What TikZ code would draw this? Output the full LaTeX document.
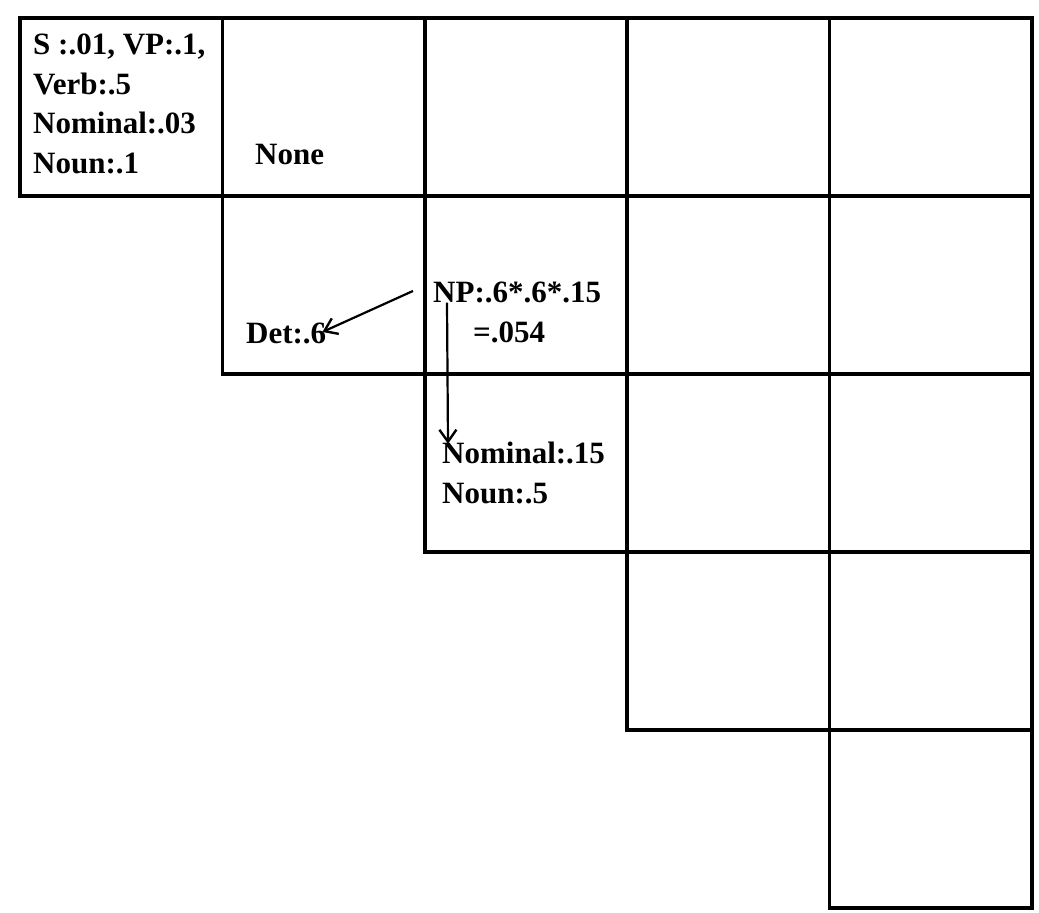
\documentclass[tikz,border=0pt]{standalone}
\usepackage{fontspec}
\setmainfont{Liberation Serif}
\usetikzlibrary{positioning,arrows.meta,calc}

\begin{document}
\begin{tikzpicture}[x=1pt,y=-1pt,>={Straight Barb[length=12pt,width=17pt,line width=2.4pt]},
  font=\fontsize{31}{39.5}\selectfont\bfseries,
  cellbox/.style={draw,line width=3.5pt,minimum width=202.4pt,minimum height=178pt,inner sep=0pt},
  entry/.style={anchor=base west,inner sep=0pt,align=left},
  backptr/.style={->,line width=2.2pt}]
\useasboundingbox (0,0) rectangle (1039,913);
% ---------------- chart cells (upper triangle) ----------------
\foreach \r in {0,...,4}
  \foreach \c in {\r,...,4}
    \node[cellbox] (cell\r\c) at ({20+202.4*(\c+0.5)},{18+178*(\r+0.5)}) {};
% ---------------- cell entries ----------------
\node[entry] (top) at (33,173) {S :.01, VP:.1,\\Verb:.5\\Nominal:.03\\Noun:.1};
\node[entry] (none) at (255,164) {None};
\node[entry] (det) at (246,343) {Det:.6};
\node[entry] (np) at (433,302) {NP:.6*.6*.15};
\node[entry] (npval) at (473,342) {=.054};
\node[entry] (nom) at (442,503) {Nominal:.15\\Noun:.5};
% back pointers
\draw[backptr] ([xshift=-20pt,yshift=1pt]np.west) -- ([xshift=-4pt,yshift=1pt]det.east);
\draw[backptr] ([xshift=14pt]np.south west) -- ([xshift=6pt,yshift=-2pt]nom.north west);
\end{tikzpicture}
\end{document}
